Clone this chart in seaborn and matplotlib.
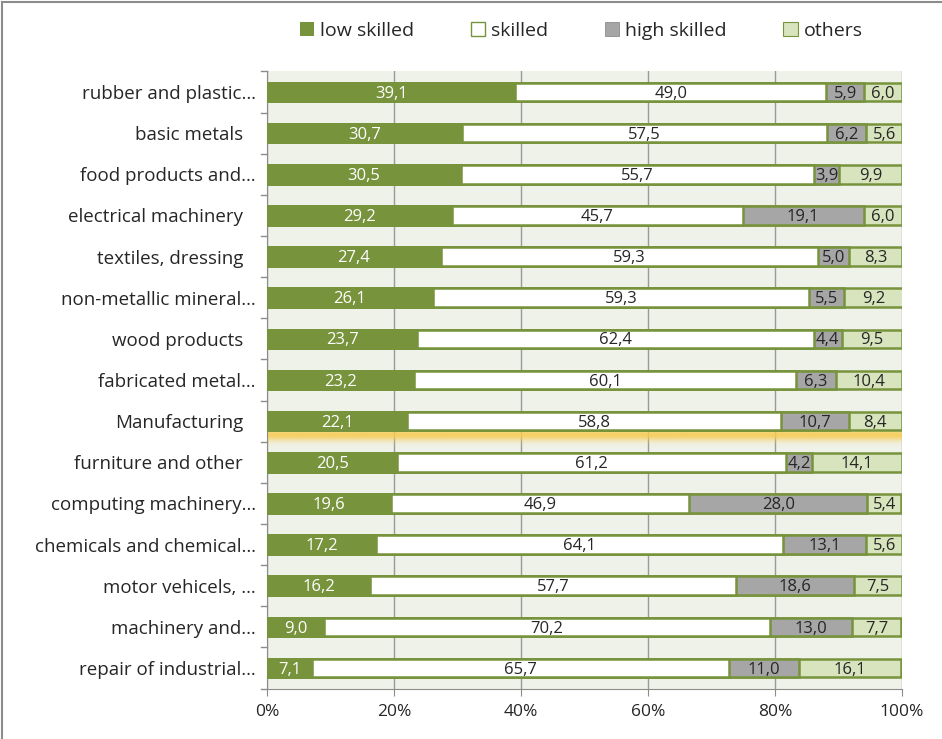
import numpy as np
import pandas as pd
import matplotlib
matplotlib.use("Agg")
import matplotlib.pyplot as plt
from matplotlib.patches import Patch, Rectangle
import seaborn as sns

# chart data
SECTORS = [
    "rubber and plastic\u2026", "basic metals", "food products and\u2026",
    "electrical machinery", "textiles, dressing", "non-metallic mineral\u2026",
    "wood products", "fabricated metal\u2026", "Manufacturing",
    "furniture and other", "computing machinery\u2026", "chemicals and chemical\u2026",
    "motor vehicels, \u2026", "machinery and\u2026", "repair of industrial\u2026",
]
LOW_SKILLED = [39.1, 30.7, 30.5, 29.2, 27.4, 26.1, 23.7, 23.2, 22.1, 20.5, 19.6, 17.2, 16.2, 9.0, 7.1]
SKILLED = [49.0, 57.5, 55.7, 45.7, 59.3, 59.3, 62.4, 60.1, 58.8, 61.2, 46.9, 64.1, 57.7, 70.2, 65.7]
HIGH_SKILLED = [5.9, 6.2, 3.9, 19.1, 5.0, 5.5, 4.4, 6.3, 10.7, 4.2, 28.0, 13.1, 18.6, 13.0, 11.0]
OTHERS = [6.0, 5.6, 9.9, 6.0, 8.3, 9.2, 9.5, 10.4, 8.4, 14.1, 5.4, 5.6, 7.5, 7.7, 16.1]
SERIES = ["low skilled", "skilled", "high skilled", "others"]
X_TICKS = [0, 20, 40, 60, 80, 100]

COLORS = ["#77933c", "#ffffff", "#a6a6a6", "#d7e4bd"]
EDGE = "#77933c"
TEXT_COLORS = ["white", "#262626", "#262626", "#262626"]
HIGHLIGHT = "Manufacturing"

plt.rcParams['font.family'] = ['Open Sans', 'DejaVu Sans']

df = pd.DataFrame({"sector": SECTORS, "low skilled": LOW_SKILLED, "skilled": SKILLED,
                   "high skilled": HIGH_SKILLED, "others": OTHERS})
vals = df[SERIES].to_numpy()
cum = np.cumsum(vals, axis=1)
starts = cum - vals

fig = plt.figure(figsize=(9.42, 7.39), dpi=100)
ax = fig.add_axes([267 / 942, 1 - 688.6 / 739, 635 / 942, 617.2 / 739])
ax.set_facecolor("#eff2e8")

# stacked bars: draw cumulative totals back-to-front
for i in reversed(range(len(SERIES))):
    sns.barplot(x=cum[:, i], y=df["sector"], orient="h", color=COLORS[i],
                edgecolor=EDGE, linewidth=1.8, width=0.45, saturation=1, ax=ax, zorder=3)

# segment labels
for r in range(len(SECTORS)):
    for i in range(len(SERIES)):
        txt = f"{vals[r, i]:.1f}".replace(".", ",")
        ax.text(starts[r, i] + vals[r, i] / 2, r + 0.04, txt, ha="center", va="center",
                fontsize=12, color=TEXT_COLORS[i], zorder=5)

# yellow glow under the Manufacturing bar
hr = SECTORS.index(HIGHLIGHT)
grad = np.linspace(0, 1, 60)
alpha = np.exp(-((grad - 0.3) / 0.32) ** 2)
rgba = np.zeros((60, 2, 4))
rgba[..., 0], rgba[..., 1], rgba[..., 2] = 0.97, 0.80, 0.33
rgba[..., 3] = alpha[:, None] * 0.9
ax.imshow(rgba, extent=[0, 100, hr + 0.66, hr + 0.2], aspect="auto", zorder=2,
          interpolation="bilinear")

ax.set_xlim(0, 100)
ax.set_ylim(len(SECTORS) - 0.5, -0.5)
ax.set_xticks(X_TICKS)
ax.set_xticklabels([f"{t}%" for t in X_TICKS], fontsize=12.5, color="#262626")
ax.xaxis.grid(True, color="#9a9a9a", linewidth=1, zorder=0)
ax.set_axisbelow(True)
ax.set_xlabel("")
ax.set_ylabel("")
ax.tick_params(axis="y", length=0, pad=8, labelsize=13.5, labelcolor="#262626")
ax.tick_params(axis="x", length=5, color="#8c8c8c", pad=6)
ax.set_yticks(range(len(SECTORS)), SECTORS)
for lab in ax.get_yticklabels():
    if not lab.get_text().endswith("\u2026"):
        lab.set_x(-13 / 635)
# boundary ticks on the category axis
for b in np.arange(-0.5, len(SECTORS) + 0.5, 1):
    ax.plot([-0.9, 0], [b, b], color="#8c8c8c", lw=1, clip_on=False, zorder=1)
for s in ["top", "right"]:
    ax.spines[s].set_visible(False)
for s in ["left", "bottom"]:
    ax.spines[s].set_color("#8c8c8c")

handles = [Patch(facecolor=COLORS[0], edgecolor="none", label=SERIES[0]),
           Patch(facecolor="white", edgecolor=EDGE, linewidth=1, label=SERIES[1]),
           Patch(facecolor=COLORS[2], edgecolor="#8c8c8c", linewidth=0.6, label=SERIES[2]),
           Patch(facecolor=COLORS[3], edgecolor=EDGE, linewidth=0.8, label=SERIES[3])]
fig.legend(handles=handles, loc="center", bbox_to_anchor=(0.617, 0.958), ncol=4,
           frameon=False, fontsize=14, handlelength=0.75, handleheight=0.75,
           handletextpad=0.3, columnspacing=2.9, labelcolor="#262626")

# outer chart frame
fig.patches.append(Rectangle((0.002, -0.01), 1.2, 1.007, transform=fig.transFigure,
                             fill=False, edgecolor="#8c8c8c", linewidth=1.5))

fig.savefig("out.png", dpi=100)
